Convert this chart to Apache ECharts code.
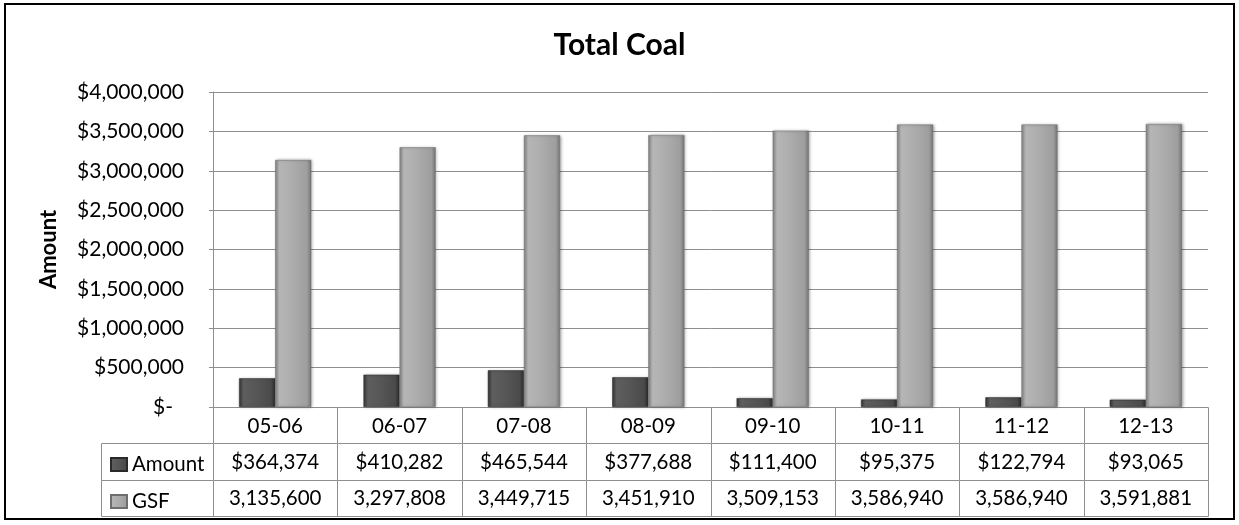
<!DOCTYPE html>
<html>
<head>
<meta charset="utf-8">
<script src="https://cdn.jsdelivr.net/npm/echarts@6/dist/echarts.min.js"></script>
<style>
html,body{margin:0;padding:0;background:#fff;}
#chart{width:1239px;height:525px;}
</style>
</head>
<body>
<div id="chart"></div>
<script>
// ---- data ----
const categories = ['05-06','06-07','07-08','08-09','09-10','10-11','11-12','12-13'];
const amountValues = [364374, 410282, 465544, 377688, 111400, 95375, 122794, 93065];
const gsfValues = [3135600, 3297808, 3449715, 3451910, 3509153, 3586940, 3586940, 3591881];
const yTicks = [0, 500000, 1000000, 1500000, 2000000, 2500000, 3000000, 3500000, 4000000];
const seriesNames = ['Amount', 'GSF'];

const FONT = 'Lato';
const fmtNum = v => v.toLocaleString('en-US');
const fmtMoney = v => v === 0 ? '$-' : '$' + fmtNum(v);

const amountColor = {type:'linear',x:0,y:0,x2:1,y2:0,colorStops:[
  {offset:0,color:'#353535'},{offset:0.12,color:'#5e5e5e'},{offset:0.5,color:'#565656'},{offset:0.88,color:'#4a4a4a'},{offset:1,color:'#2c2c2c'}]};
const gsfColor = {type:'linear',x:0,y:0,x2:1,y2:0,colorStops:[
  {offset:0,color:'#858585'},{offset:0.12,color:'#b6b6b6'},{offset:0.5,color:'#acacac'},{offset:0.88,color:'#9e9e9e'},{offset:1,color:'#777777'}]};

// table cells built from the arrays
const cells = [];
categories.forEach((c, i) => {
  cells.push({pos:[i, 0], text: c});
  cells.push({pos:[i, 1], text: fmtMoney(amountValues[i])});
  cells.push({pos:[i, 2], text: fmtNum(gsfValues[i])});
});
const keyCells = [{pos:[0,0]}, {pos:[0,1]}];

function cellItem(params, api, text) {
  const c = api.coord([api.value(0), api.value(1)]);
  const s = api.size([1, 1]);
  const x0 = Math.round(c[0] - s[0] / 2) + 0.5, y0 = Math.round(c[1] - s[1] / 2) + 0.5;
  const x1 = Math.round(c[0] + s[0] / 2) + 0.5, y1 = Math.round(c[1] + s[1] / 2) + 0.5;
  const children = [{type:'rect', shape:{x:x0, y:y0, width:x1-x0, height:y1-y0},
    style:{fill:'#fff', stroke:'#8e8e8e', lineWidth:1}}];
  if (text) children.push({type:'text', style:{text:text, x:c[0], y:c[1]+1, align:'center', verticalAlign:'middle',
    font:'20.5px ' + FONT, fill:'#000'}});
  return {type:'group', children};
}

const chart = echarts.init(document.getElementById('chart'));
const option = {
  animation: false,
  textStyle: {fontFamily: FONT},
  title: {text:'Total Coal', left:'center', top:25,
    textStyle:{fontFamily:FONT, fontSize:30, fontWeight:'bold', color:'#000'}},
  legend: [
    {data:['Amount'], left:105, top:449, itemWidth:16, itemHeight:13, icon:'rect',
      textStyle:{fontFamily:FONT, fontSize:20.5, color:'#000'}, selectedMode:false},
    {data:['GSF'], left:105, top:486, itemWidth:16, itemHeight:13, icon:'rect',
      textStyle:{fontFamily:FONT, fontSize:20.5, color:'#000'}, selectedMode:false}
  ],
  graphic: [{type:'rect', shape:{x:5, y:4, width:1229, height:515},
    style:{fill:'none', stroke:'#000', lineWidth:2}, z:100}],
  grid: [
    {left:213, right:31, top:92, bottom:118},
    {left:213, right:31, top:407, height:109},
    {left:101, width:112, top:443, height:73}
  ],
  xAxis: [
    {type:'category', data:categories, gridIndex:0, axisLine:{show:false}, axisTick:{show:false}, axisLabel:{show:false}},
    {type:'category', data:categories, gridIndex:1, show:false},
    {type:'category', data:['key'], gridIndex:2, show:false}
  ],
  yAxis: [
    {type:'value', gridIndex:0, min:0, max:4000000, interval:500000,
      name:'Amount', nameLocation:'middle', nameGap:153, nameRotate:90,
      nameTextStyle:{fontFamily:FONT, fontSize:22, fontWeight:'bold', color:'#000'},
      axisLine:{show:true, lineStyle:{color:'#8e8e8e'}},
      axisTick:{show:true, length:4, lineStyle:{color:'#8e8e8e'}},
      splitLine:{show:true, lineStyle:{color:'#8e8e8e', width:1}},
      axisLabel:{margin:29, fontFamily:FONT, fontSize:21, color:'#000',
        formatter: v => v === 0 ? '{d|$-}' : fmtMoney(v),
        rich:{d:{fontFamily:FONT, fontSize:21, color:'#000', padding:[0,11,0,0]}}}},
    {type:'category', data:['h','a','g'], inverse:true, gridIndex:1, show:false},
    {type:'category', data:['a','g'], inverse:true, gridIndex:2, show:false}
  ],
  series: [
    {name:'Amount', type:'bar', data:amountValues, barWidth:'29%', barGap:'0%',
      itemStyle:{color:amountColor, borderColor:'#2a2a2a', borderWidth:0.5, shadowColor:'rgba(0,0,0,0.35)', shadowBlur:3, shadowOffsetX:1}},
    {name:'GSF', type:'bar', data:gsfValues, barWidth:'29%', barGap:'0%',
      itemStyle:{color:gsfColor, borderColor:'#6e6e6e', borderWidth:0.5, shadowColor:'rgba(0,0,0,0.35)', shadowBlur:3, shadowOffsetX:1}},
    {type:'custom', xAxisIndex:1, yAxisIndex:1, data:cells.map(c => c.pos), silent:true,
      renderItem:(params, api) => cellItem(params, api, cells[params.dataIndex].text)},
    {type:'custom', xAxisIndex:2, yAxisIndex:2, data:keyCells.map(c => c.pos), silent:true, z:1,
      renderItem:(params, api) => cellItem(params, api, '')}
  ]
};
chart.setOption(option);
</script>
</body>
</html>
